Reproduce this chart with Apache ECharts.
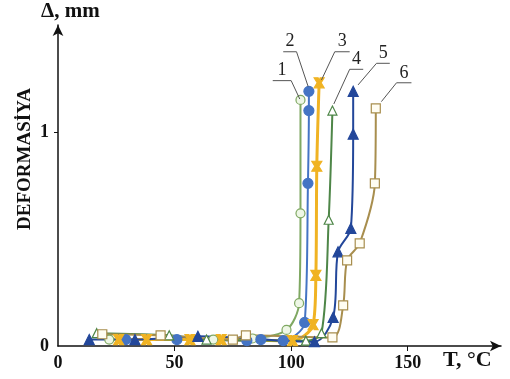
<!DOCTYPE html>
<html>
<head>
<meta charset="utf-8">
<script src="https://cdn.jsdelivr.net/npm/echarts@6/dist/echarts.min.js"></script>
<style>
  html, body { margin: 0; padding: 0; background: #fff; }
  #chart { width: 510px; height: 379px; }
</style>
</head>
<body>
<div id="chart"></div>
<script>
// T, °C / deformasiya, mm
var s1 = [[22, 0.03], [66.6, 0.03], [83.4, 0.035], [98, 0.075], [103.4, 0.2], [104, 0.62], [104, 1.15]]
var s2 = [[29, 0.03], [51, 0.03], [81, 0.025], [87, 0.03], [96.6, 0.025], [105.8, 0.11], [107.2, 0.76], [107.6, 1.1], [107.6, 1.19]]
var s3 = [[26, 0.03], [38, 0.03], [56.6, 0.03], [70, 0.03], [100.6, 0.025], [109.4, 0.1], [110.6, 0.33], [111, 0.84], [112, 1.23]]
var s4 = [[16.6, 0.06], [47.7, 0.05], [63.7, 0.03], [106.3, 0.025], [113, 0.06], [116.1, 0.59], [117.7, 1.1]]
var s5 = [[13.4, 0.03], [33, 0.03], [60, 0.045], [110, 0.02], [118, 0.134], [120.1, 0.44], [125.6, 0.55], [126.6, 0.99], [126.6, 1.19]]
var s6 = [[19, 0.055], [44, 0.05], [75, 0.03], [80.6, 0.05], [117.7, 0.04], [122.3, 0.19], [124, 0.4], [129.4, 0.48], [135.9, 0.76], [136.3, 1.11]]

var xLabels = [0, 50, 100, 150]
var yLabels = [0, 1]
var curveNames = ['1', '2', '3', '4', '5', '6']

// leader lines for the curve numbers (far end, near end, point on curve)
var leaders = [
  [[92.1, 1.24], [100.0, 1.24], [103.7, 1.154]],
  [[96.6, 1.375], [102.3, 1.375], [107.3, 1.212]],
  [[125.1, 1.375], [118.7, 1.375], [113.0, 1.243]],
  [[130.9, 1.293], [125.1, 1.293], [118.3, 1.131]],
  [[142.3, 1.321], [136.6, 1.321], [128.7, 1.22]],
  [[151.6, 1.23], [145.2, 1.23], [138.7, 1.142]]
]

var serif = 'Liberation Serif'
var crossSym = 'path://M0,0L4,0L5,3L6,0L10,0L7,5L10,10L6,10L5,7L4,10L0,10L3,5Z'

function mkSeries(name, data, color, symbol, fill, size, width) {
  return {
    name: name,
    type: 'line',
    data: data,
    smooth: 0.3,
    symbol: symbol,
    symbolSize: size,
    showAllSymbol: true,
    lineStyle: { color: color, width: width },
    itemStyle: { color: fill, borderColor: color, borderWidth: 1.2 },
    z: 3
  }
}

var myChart = echarts.init(document.getElementById('chart'))

var option = {
  animation: false,
  backgroundColor: '#fff',
  grid: { left: 58, right: 9, top: 25, bottom: 33 },
  xAxis: {
    type: 'value',
    min: 0,
    max: 190,
    interval: 50,
    splitLine: { show: false },
    axisLine: { lineStyle: { color: '#111', width: 1.5 }, symbol: ['none', 'arrow'], symbolSize: [8, 11] },
    axisTick: { length: 5, lineStyle: { color: '#111' }, customValues: [50, 100, 150] },
    axisLabel: {
      customValues: xLabels,
      margin: 8,
      color: '#111',
      fontFamily: serif,
      fontWeight: 'bold',
      fontSize: 18
    }
  },
  yAxis: {
    type: 'value',
    min: 0,
    max: 1.5,
    interval: 0.5,
    splitLine: { show: false },
    axisLine: { lineStyle: { color: '#111', width: 1.5 }, symbol: ['none', 'arrow'], symbolSize: [8, 11] },
    axisTick: { length: 4, lineStyle: { color: '#111' }, customValues: [1] },
    axisLabel: {
      customValues: yLabels,
      margin: 9,
      color: '#111',
      fontFamily: serif,
      fontWeight: 'bold',
      fontSize: 18
    }
  },
  series: [
    mkSeries('1', s1, '#7fa862', 'circle', '#eef7e6', 9, 2),
    mkSeries('2', s2, '#4474c4', 'circle', '#4474c4', 10, 2),
    mkSeries('3', s3, '#f0b323', crossSym, '#f0b323', 10, 3),
    mkSeries('4', s4, '#4e8648', 'triangle', '#ffffff', 9, 2),
    mkSeries('5', s5, '#23479a', 'triangle', '#23479a', 10, 2),
    mkSeries('6', s6, '#a88e4e', 'rect', '#fffdf2', 9, 2)
  ]
}

myChart.setOption(option)

// texts and curve number leaders
var g = [
  { type: 'text', left: 41, top: 1, style: { text: 'Δ, mm', fontFamily: serif, fontWeight: 'bold', fontSize: 21, fill: '#111' } },
  { type: 'text', x: 25, y: 159, rotation: Math.PI / 2, style: { text: 'DEFORMASİYA', fontFamily: serif, fontWeight: 'bold', fontSize: 19, fill: '#111', align: 'center', verticalAlign: 'middle' } },
  { type: 'text', left: 443, top: 349, style: { text: 'T, °C', fontFamily: serif, fontWeight: 'bold', fontSize: 22, fill: '#111' } }
]
leaders.forEach(function (pts, i) {
  var px = pts.map(function (p) { return myChart.convertToPixel({ gridIndex: 0 }, p) })
  g.push({ type: 'polyline', shape: { points: px }, style: { stroke: '#555', lineWidth: 1, fill: null }, z: 10 })
  g.push({
    type: 'text',
    x: (px[0][0] + px[1][0]) / 2,
    y: px[0][1] - 1,
    style: { text: curveNames[i], fontFamily: serif, fontSize: 18, fill: '#222', align: 'center', verticalAlign: 'bottom' },
    z: 10
  })
})
myChart.setOption({ graphic: g })
</script>
</body>
</html>
